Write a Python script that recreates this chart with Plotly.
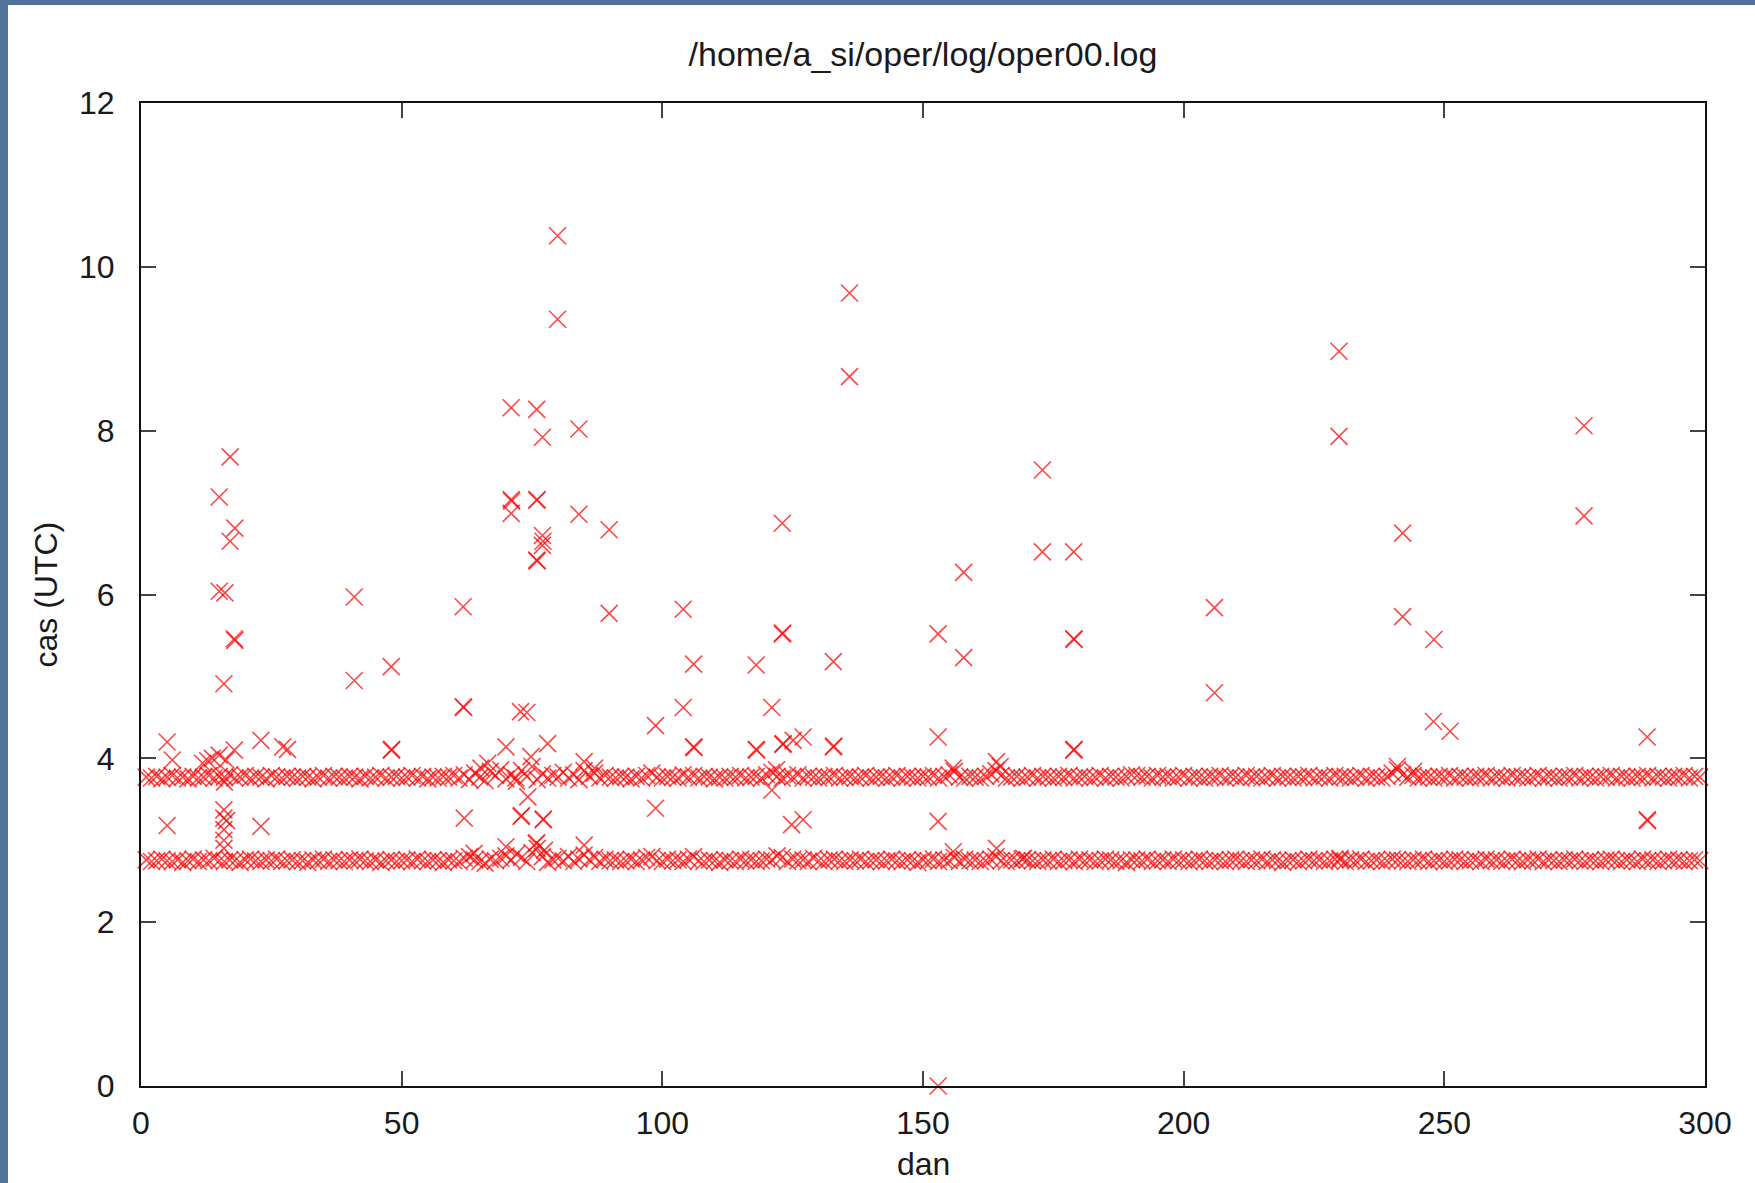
import plotly.graph_objects as go

#%% data

days = [
    1, 2, 3, 4, 5, 6, 7, 8, 9, 10, 11, 12, 13, 14, 15, 16, 17, 18, 19, 20,
    21, 22, 23, 24, 25, 26, 27, 28, 29, 30, 31, 32, 33, 34, 35, 36, 37, 38, 39, 40,
    41, 42, 43, 44, 45, 46, 47, 48, 49, 50, 51, 52, 53, 54, 55, 56, 57, 58, 59, 60,
    61, 62, 63, 64, 65, 66, 67, 68, 69, 70, 71, 72, 73, 74, 75, 76, 77, 78, 79, 80,
    81, 82, 83, 84, 85, 86, 87, 88, 89, 90, 91, 92, 93, 94, 95, 96, 97, 98, 99, 100,
    101, 102, 103, 104, 105, 106, 107, 108, 109, 110, 111, 112, 113, 114, 115, 116, 117, 118, 119, 120,
    121, 122, 123, 124, 125, 126, 127, 128, 129, 130, 131, 132, 133, 134, 135, 136, 137, 138, 139, 140,
    141, 142, 143, 144, 145, 146, 147, 148, 149, 150, 151, 152, 153, 154, 155, 156, 157, 158, 159, 160,
    161, 162, 163, 164, 165, 166, 167, 168, 169, 170, 171, 172, 173, 174, 175, 176, 177, 178, 179, 180,
    181, 182, 183, 184, 185, 186, 187, 188, 189, 190, 191, 192, 193, 194, 195, 196, 197, 198, 199, 200,
    201, 202, 203, 204, 205, 206, 207, 208, 209, 210, 211, 212, 213, 214, 215, 216, 217, 218, 219, 220,
    221, 222, 223, 224, 225, 226, 227, 228, 229, 230, 231, 232, 233, 234, 235, 236, 237, 238, 239, 240,
    241, 242, 243, 244, 245, 246, 247, 248, 249, 250, 251, 252, 253, 254, 255, 256, 257, 258, 259, 260,
    261, 262, 263, 264, 265, 266, 267, 268, 269, 270, 271, 272, 273, 274, 275, 276, 277, 278, 279, 280,
    281, 282, 283, 284, 285, 286, 287, 288, 289, 290, 291, 292, 293, 294, 295, 296, 297, 298, 299,
]

# early run (~2:45 UTC)
run_low = [
    2.76, 2.74, 2.75, 2.77, 2.75, 2.74, 2.76, 2.73, 2.75, 2.77,
    2.74, 2.76, 2.75, 2.78, 2.75, 2.74, 2.76, 2.75, 2.73, 2.76,
    2.77, 2.75, 2.74, 2.76, 2.75, 2.77, 2.74, 2.75, 2.76, 2.74,
    2.75, 2.73, 2.76, 2.75, 2.77, 2.74, 2.76, 2.75, 2.74, 2.76,
    2.75, 2.77, 2.75, 2.74, 2.76, 2.73, 2.75, 2.76, 2.74, 2.75,
    2.76, 2.74, 2.77, 2.75, 2.74, 2.76, 2.75, 2.73, 2.76, 2.75,
    2.74, 2.78, 2.80, 2.76, 2.74, 2.72, 2.77, 2.75, 2.78, 2.81,
    2.76, 2.83, 2.79, 2.74, 2.85, 2.90, 2.80, 2.73, 2.76, 2.78,
    2.75, 2.80, 2.74, 2.77, 2.82, 2.76, 2.79, 2.74, 2.77, 2.75,
    2.76, 2.74, 2.75, 2.77, 2.74, 2.76, 2.79, 2.80, 2.75, 2.74,
    2.77, 2.75, 2.76, 2.74, 2.77, 2.80, 2.75, 2.74, 2.76, 2.75,
    2.73, 2.76, 2.75, 2.74, 2.77, 2.75, 2.76, 2.74, 2.75, 2.77,
    2.76, 2.81, 2.79, 2.74, 2.77, 2.75, 2.76, 2.74, 2.78, 2.75,
    2.74, 2.76, 2.77, 2.75, 2.74, 2.76, 2.75, 2.77, 2.74, 2.75,
    2.76, 2.74, 2.75, 2.77, 2.75, 2.74, 2.76, 2.75, 2.73, 2.76,
    2.75, 2.77, 2.74, 2.76, 2.75, 2.79, 2.74, 2.77, 2.75, 2.76,
    2.74, 2.75, 2.77, 2.80, 2.75, 2.74, 2.76, 2.75, 2.77, 2.76,
    2.75, 2.74, 2.76, 2.75, 2.77, 2.74, 2.75, 2.76, 2.74, 2.77,
    2.75, 2.76, 2.74, 2.75, 2.77, 2.76, 2.74, 2.75, 2.73, 2.76,
    2.76, 2.75, 2.77, 2.74, 2.75, 2.76, 2.74, 2.77, 2.75, 2.76,
    2.74, 2.75, 2.77, 2.75, 2.74, 2.76, 2.75, 2.74, 2.76, 2.77,
    2.75, 2.74, 2.76, 2.75, 2.77, 2.74, 2.76, 2.75, 2.73, 2.75,
    2.76, 2.74, 2.75, 2.77, 2.75, 2.76, 2.74, 2.75, 2.77, 2.76,
    2.74, 2.76, 2.75, 2.77, 2.74, 2.75, 2.76, 2.74, 2.75, 2.77,
    2.76, 2.75, 2.74, 2.76, 2.75, 2.77, 2.74, 2.75, 2.76, 2.74,
    2.75, 2.77, 2.76, 2.74, 2.75, 2.76, 2.74, 2.77, 2.75, 2.76,
    2.74, 2.75, 2.77, 2.75, 2.74, 2.76, 2.75, 2.77, 2.74, 2.76,
    2.75, 2.74, 2.76, 2.75, 2.77, 2.75, 2.74, 2.76, 2.75, 2.74,
    2.76, 2.77, 2.75, 2.74, 2.76, 2.75, 2.74, 2.77, 2.75, 2.76,
    2.74, 2.75, 2.77, 2.75, 2.76, 2.74, 2.75, 2.76, 2.75,
]

# second run (~3:45 UTC)
run_high = [
    3.77, 3.76, 3.78, 3.75, 3.77, 3.79, 3.76, 3.77, 3.75, 3.78,
    3.76, 3.77, 3.79, 3.76, 3.78, 3.77, 3.80, 3.76, 3.77, 3.79,
    3.76, 3.78, 3.77, 3.75, 3.79, 3.77, 3.76, 3.78, 3.77, 3.76,
    3.78, 3.77, 3.75, 3.77, 3.79, 3.76, 3.78, 3.77, 3.76, 3.78,
    3.77, 3.75, 3.78, 3.76, 3.77, 3.79, 3.76, 3.77, 3.78, 3.76,
    3.77, 3.79, 3.76, 3.78, 3.75, 3.77, 3.76, 3.78, 3.77, 3.79,
    3.76, 3.80, 3.74, 3.82, 3.77, 3.73, 3.84, 3.79, 3.86, 3.75,
    3.80, 3.72, 3.85, 3.78, 3.90, 3.74, 3.81, 3.76, 3.79, 3.77,
    3.83, 3.76, 3.80, 3.74, 3.85, 3.78, 3.82, 3.76, 3.79, 3.77,
    3.76, 3.78, 3.77, 3.75, 3.78, 3.76, 3.79, 3.82, 3.77, 3.76,
    3.78, 3.77, 3.76, 3.80, 3.77, 3.79, 3.76, 3.78, 3.77, 3.75,
    3.77, 3.76, 3.78, 3.77, 3.79, 3.76, 3.77, 3.78, 3.76, 3.80,
    3.83, 3.78, 3.76, 3.79, 3.77, 3.80, 3.76, 3.78, 3.77, 3.76,
    3.78, 3.77, 3.79, 3.76, 3.77, 3.78, 3.76, 3.77, 3.79, 3.76,
    3.77, 3.78, 3.76, 3.77, 3.79, 3.76, 3.78, 3.77, 3.76, 3.78,
    3.77, 3.79, 3.76, 3.78, 3.80, 3.84, 3.77, 3.76, 3.78, 3.77,
    3.76, 3.78, 3.81, 3.85, 3.79, 3.76, 3.77, 3.78, 3.76, 3.77,
    3.79, 3.76, 3.78, 3.77, 3.76, 3.78, 3.77, 3.79, 3.76, 3.77,
    3.78, 3.76, 3.77, 3.79, 3.76, 3.78, 3.77, 3.76, 3.78, 3.80,
    3.79, 3.77, 3.78, 3.76, 3.79, 3.77, 3.78, 3.76, 3.77, 3.79,
    3.76, 3.78, 3.77, 3.76, 3.78, 3.77, 3.79, 3.76, 3.78, 3.77,
    3.76, 3.79, 3.77, 3.78, 3.76, 3.77, 3.79, 3.76, 3.78, 3.77,
    3.76, 3.78, 3.77, 3.79, 3.76, 3.77, 3.78, 3.76, 3.79, 3.77,
    3.78, 3.76, 3.77, 3.79, 3.76, 3.78, 3.77, 3.76, 3.78, 3.82,
    3.86, 3.80, 3.77, 3.79, 3.76, 3.78, 3.77, 3.76, 3.78, 3.77,
    3.79, 3.76, 3.78, 3.77, 3.76, 3.78, 3.77, 3.79, 3.76, 3.78,
    3.77, 3.76, 3.79, 3.77, 3.78, 3.76, 3.77, 3.79, 3.76, 3.78,
    3.77, 3.76, 3.78, 3.77, 3.79, 3.76, 3.78, 3.77, 3.76, 3.78,
    3.77, 3.79, 3.76, 3.78, 3.77, 3.76, 3.78, 3.77, 3.79, 3.76,
    3.78, 3.77, 3.76, 3.78, 3.77, 3.79, 3.76, 3.78, 3.77,
]

# reruns / late runs
extra_day = [
    5.0, 6.0, 5.0, 11.8, 12.8, 13.7, 15.0, 16.3,
    15.0, 17.1, 18.0, 17.1, 15.0, 16.1, 17.9, 18.0, 15.9, 17.9, 16.0,
    15.9, 15.9, 16.4, 15.9, 15.9, 15.9,
    23.0, 23.0, 27.2, 28.1,
    40.9, 40.9, 48.0, 48.0, 48.1,
    61.8, 61.8, 61.9, 62.0, 65.2, 66.5, 63.9, 70.0, 70.0,
    71.0, 71.0, 71.1, 71.0, 72.8, 74.0, 71.9, 74.2, 72.9, 73.0, 74.8, 78.0,
    75.9, 75.9, 76.0, 77.0, 77.0, 77.1, 77.0, 76.0, 75.9,
    77.1, 77.2, 75.8, 75.9, 77.4,
    79.9, 79.9, 84.0, 84.0, 85.0, 87.0, 85.0, 89.8, 89.8,
    98.7, 98.7, 104.0, 104.0, 106.0, 106.0, 106.1,
    118.0, 118.1, 118.0, 121.0, 121.0, 121.9,
    123.0, 123.0, 123.1, 123.2, 123.1, 125.1, 127.0, 124.8, 127.0,
    132.8, 132.8, 132.9, 135.9, 135.9,
    152.9, 152.9, 152.9, 152.9, 155.8, 155.8, 157.8, 157.8,
    164.1, 164.8, 164.1, 169.3,
    172.9, 172.9, 178.9, 178.9, 179.0, 178.9, 179.0,
    205.9, 205.9, 229.8, 229.8, 230.0,
    241.0, 244.1, 242.0, 242.0, 248.0, 247.9, 251.1,
    276.8, 276.8, 288.9, 288.9, 289.0,
]
extra_cas = [
    4.20, 3.98, 3.18, 3.94, 3.97, 4.00, 4.04, 3.98,
    7.19, 7.68, 6.81, 6.65, 6.04, 6.02, 5.46, 5.44, 4.91, 4.10, 3.71,
    3.37, 3.27, 3.24, 3.13, 3.00, 2.90,
    4.22, 3.17, 4.14, 4.11,
    5.97, 4.95, 5.12, 4.10, 4.11,
    5.85, 4.63, 4.62, 3.27, 3.88, 3.94, 2.84, 4.14, 2.92,
    8.28, 7.16, 7.14, 6.99, 4.57, 4.56, 3.76, 3.53, 3.29, 3.30, 4.02, 4.18,
    8.26, 7.15, 7.16, 7.92, 6.72, 6.65, 6.60, 6.41, 6.42,
    3.25, 3.26, 2.96, 2.97, 2.88,
    10.38, 9.36, 8.02, 6.98, 3.96, 3.88, 2.94, 6.79, 5.77,
    4.40, 3.39, 5.82, 4.62, 5.15, 4.14, 4.13,
    5.14, 4.10, 4.11, 4.62, 3.61, 3.86,
    6.87, 5.52, 5.53, 4.18, 4.17, 4.22, 4.26, 3.19, 3.25,
    5.18, 4.14, 4.15, 9.68, 8.66,
    5.52, 4.26, 3.23, 0.0, 3.88, 2.86, 6.27, 5.23,
    3.96, 3.90, 2.90, 2.78,
    7.52, 6.52, 6.52, 5.46, 5.45, 4.10, 4.11,
    5.84, 4.80, 8.97, 7.93, 2.78,
    3.90, 3.84, 6.75, 5.73, 5.45, 4.45, 4.33,
    8.06, 6.96, 4.26, 3.25, 3.24,
]

x_ticks = [0, 50, 100, 150, 200, 250, 300]
y_ticks = [0, 2, 4, 6, 8, 10, 12]

#%% figure

W, H = 1755, 1183
L, R, T, B = 141, 50, 103, 97
pw, ph = W - L - R, H - T - B

font = dict(family="Liberation Sans, Arial, sans-serif", size=32, color="#1a1a1a")
red = "rgba(255,0,0,0.72)"

fig = go.Figure()
fig.add_trace(go.Scatter(
    x=days + days + extra_day,
    y=run_low + run_high + extra_cas,
    mode="markers",
    marker=dict(symbol="x-thin", size=17, line=dict(width=1.6, color=red), color=red),
    cliponaxis=False,
    showlegend=False,
    hoverinfo="x+y",
))

axis = dict(
    showgrid=False, zeroline=False,
    showline=True, linecolor="#111", linewidth=2, mirror="ticks",
    ticks="inside", ticklen=15, tickwidth=2, tickcolor="#444",
    tickfont=font,
)
fig.update_xaxes(range=[0, 300], tickvals=x_ticks, ticklabelstandoff=8, **axis)
fig.update_yaxes(range=[0, 12], tickvals=y_ticks, ticklabelstandoff=18, **axis)

# blue textured frame on the left and top edges of the screenshot
blue = "#52739b"
fig.add_shape(type="rect", xref="paper", yref="paper", layer="below",
              x0=-0.2, x1=(8 - L) / pw, y0=-0.2, y1=1.2, fillcolor=blue, line_width=0)
fig.add_shape(type="rect", xref="paper", yref="paper", layer="below",
              x0=-0.2, x1=1.2, y0=(H - B - 5) / ph, y1=1.2, fillcolor=blue, line_width=0)

fig.add_annotation(text="dan", xref="paper", yref="paper", x=0.5, y=(H - B - 1164) / ph,
                   showarrow=False, font=font, yanchor="middle")
fig.add_annotation(text="cas (UTC)", xref="paper", yref="paper", x=(45 - L) / pw, y=0.5,
                   showarrow=False, font=font, textangle=-90, xanchor="center")

fig.update_layout(
    width=W, height=H,
    margin=dict(l=L, r=R, t=T, b=B),
    paper_bgcolor="white", plot_bgcolor="white",
    title=dict(text="/home/a_si/oper/log/oper00.log", font=dict(font, size=34),
               x=0.5, xref="paper", y=1 - 54 / H, yanchor="middle"),
    font=font,
)

# the page body has an 8px margin by default; drop it so the figure sits at 0,0
fig.write_html("out.html", config={"displayModeBar": False},
               post_script="document.body.style.margin='0';")
